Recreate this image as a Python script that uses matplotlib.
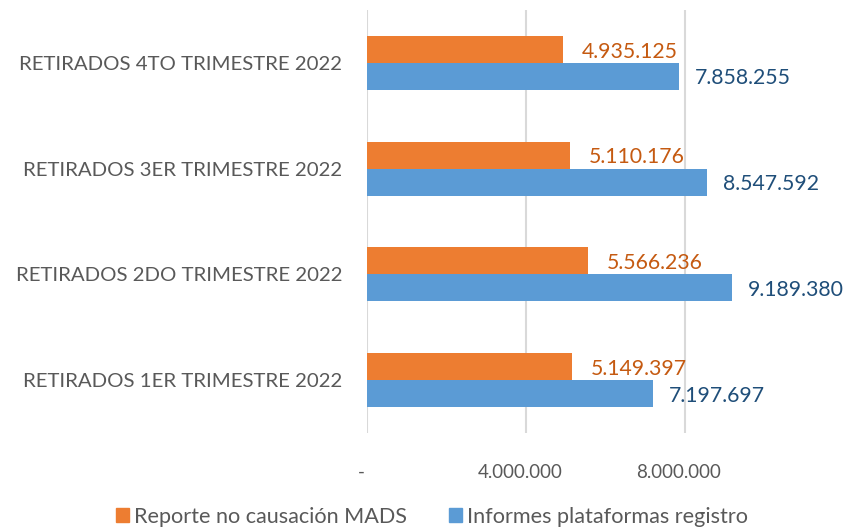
import matplotlib
matplotlib.use("Agg")
import matplotlib.pyplot as plt
import matplotlib.transforms as mtransforms
import numpy as np
from matplotlib.patches import Patch

plt.rcParams['font.family'] = ['Lato', 'DejaVu Sans']

categories = ["RETIRADOS 1ER TRIMESTRE 2022", "RETIRADOS 2DO TRIMESTRE 2022",
              "RETIRADOS 3ER TRIMESTRE 2022", "RETIRADOS 4TO TRIMESTRE 2022"]
mads = [5149397, 5566236, 5110176, 4935125]
informes = [7197697, 9189380, 8547592, 7858255]
series_names = ["Reporte no causación MADS", "Informes plataformas registro"]
xticks = [0, 4000000, 8000000]
xtick_labels = ["-", "4.000.000", "8.000.000"]

def fmt(v):
    return f"{v:,}".replace(",", ".")

W, H = 848, 529
fig = plt.figure(figsize=(W/100, H/100), dpi=100)
ax = fig.add_axes([367/W, 1-433/H, (W-367)/W, (433-10)/H])

y = np.arange(len(categories))
h = 0.255
orange = "#ED7D31"
blue = "#5B9BD5"
ax.barh(y + h/2, mads, height=h, color=orange)
ax.barh(y - h/2, informes, height=h, color=blue)

xmax = (W-367)/((685-367)/8e6)
ax.set_xlim(0, xmax)
ax.set_ylim(-0.5, len(categories)-0.5)

px = (685-367)/8e6
for yi, v in zip(y, mads):
    ax.text(v + 19/px, yi + h/2 - 0.02, fmt(v), color="#C55A11", fontsize=15.3, va="center", ha="left")
for yi, v in zip(y, informes):
    ax.text(v + 16/px, yi - h/2 - 0.02, fmt(v), color="#1F4E79", fontsize=15.3, va="center", ha="left")

ax.set_yticks(y)
ax.set_yticklabels(categories, fontsize=14.7, color="#595959")
ax.set_xticks(xticks)
ax.set_xticklabels(xtick_labels, fontsize=13.5, color="#595959")
ax.tick_params(axis='y', length=0, pad=18)
ax.tick_params(axis='x', length=0, pad=22)
shift = mtransforms.ScaledTranslation(-6/100, 0, fig.dpi_scale_trans)
for lab in ax.get_xticklabels():
    lab.set_transform(lab.get_transform() + shift)
ax.grid(axis='x', color="#D9D9D9", linewidth=1.5)
ax.set_axisbelow(True)
for s in ax.spines.values():
    s.set_visible(False)

handles = [Patch(color=orange), Patch(color=blue)]
fig.legend(handles, series_names, loc="center", bbox_to_anchor=(432/W, 1-517/H),
           ncol=2, frameon=False, fontsize=15.6, handlelength=0.6, handleheight=0.6,
           handletextpad=0.25, columnspacing=1.9, labelcolor="#595959")

fig.savefig("out.png", dpi=100)
